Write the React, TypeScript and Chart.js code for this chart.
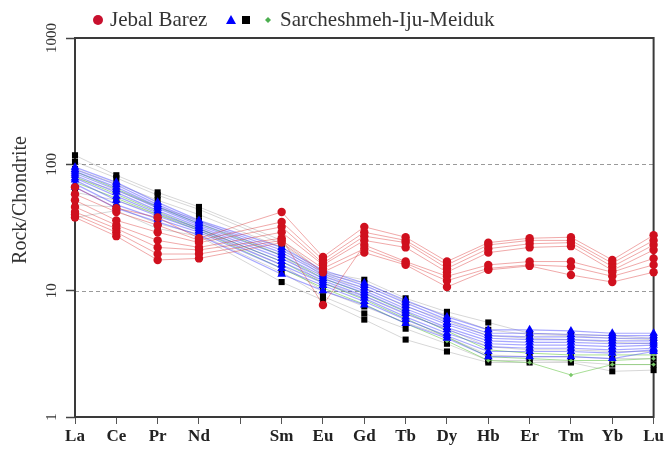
import React, { useEffect, useRef } from "react";
import Chart from "chart.js/auto";

// Rare-earth elements (Pm left blank on the axis)
const elements = ["La", "Ce", "Pr", "Nd", "", "Sm", "Eu", "Gd", "Tb", "Dy", "Hb", "Er", "Tm", "Yb", "Lu"];
const yTickValues = [1, 10, 100, 1000];

// Jebal Barez samples (chondrite-normalised)
const jebalBarez = [
  [66, 45, 38, 26, null, 42, 18.5, 32, 26.5, 17, 24, 26, 26.5, 17.5, 27.5],
  [58, 42, 33, 25, null, 35, 17.5, 29, 25, 16, 23, 25, 25, 16.5, 25],
  [52, 36, 29, 24, null, 32, 16.5, 27, 24, 15, 21.5, 23.5, 24, 15.5, 23],
  [46, 33, 25, 22, null, 29, 16, 25, 22, 14, 20, 22, 22.5, 14.5, 21],
  [42, 31, 22, 21, null, 26, 7.7, 23, 17, 13, 16, 17, 17, 14, 18],
  [40, 29, 19.5, 19.5, null, 25, 15, 21.5, 16.5, 12, 15, 16, 15.5, 13, 16],
  [38, 27, 17.5, 18, null, 24, 14, 20, 16, 10.7, 14.6, 15.7, 13.3, 11.7, 14],
];

// Sarcheshmeh / Iju / Meiduk samples
const blueSamples = [
  [95, 72, 50, 36, null, 22, 14.5, 11.5, 8.4, 6.2, 4.9, 4.9, 4.8, 4.6, 4.6],
  [91, 69, 48, 35, null, 21, 14, 11, 8.0, 5.9, 4.6, 4.6, 4.5, 4.4, 4.4],
  [88, 66, 46.5, 34, null, 20, 13.5, 10.5, 7.6, 5.6, 4.4, 4.3, 4.3, 4.2, 4.2],
  [85, 63, 45, 33, null, 19, 13, 10, 7.2, 5.4, 4.2, 4.1, 4.1, 4.0, 4.0],
  [82, 60, 43, 32, null, 18, 12.5, 9.6, 6.9, 5.1, 4.0, 3.9, 3.9, 3.8, 3.85],
  [78, 56, 41, 31, null, 17, 12, 9.1, 6.6, 4.9, 3.8, 3.7, 3.7, 3.6, 3.7],
  [75, 52, 39, 30, null, 16, 11.5, 8.7, 6.2, 4.6, 3.6, 3.5, 3.5, 3.4, 3.5],
  [70, 48, 37, 29, null, 15, 11, 8.2, 5.9, 4.4, 3.3, 3.3, 3.3, 3.2, 3.4],
  [66, 45, 35, 27.5, null, 13.5, 10, 7.7, 5.5, 4.2, 3.0, 3.0, 3.0, 2.9, 3.3],
];

const blackSamples = [
  [118, 82, 60, 46, null, 25, 14, 12.2, 8.7, 6.8, 5.6, 4.6, 4.5, 4.4, 4.2],
  [105, 78, 57, 44, null, 23.5, 13.5, 11.5, 8.2, 6.4, 4.9, 4.5, 4.4, 4.2, 4.1],
  [92, 70, 52, 40, null, 22, 13, 10.5, 7.5, 5.8, 4.4, 4.2, 4.1, 3.9, 3.8],
  [78, 62, 46, 36, null, 19, 11.5, 9, 6.5, 5, 3.6, 3.4, 3.4, 3.3, 3.3],
  [60, 52, 40, 31, null, 16, 10, 7.5, 5.6, 4.3, 3.1, 3.0, 3.0, 2.9, 2.9],
  [48, 46, 34, 28, null, 14, 9, 6.6, 5.0, 3.8, 2.8, 2.8, 2.75, 2.6, 2.6],
  [38, 43, 31, 27, null, 11.7, 8.4, 5.9, 4.1, 3.3, 2.7, 2.7, 2.7, 2.3, 2.35],
];

const greenSamples = [
  [88, 64, 46, 34, null, 19, 12.5, 9.5, 6.8, 4.8, 3.4, 3.2, 3.1, 3.1, 3.1],
  [80, 58, 42, 31, null, 17, 11.5, 8.5, 6.0, 4.3, 3.0, 2.9, 2.8, 2.8, 2.9],
  [72, 54, 40, 30, null, 15, 10.5, 7.8, 5.5, 4.0, 2.8, 2.7, 2.15, 2.6, 2.6],
];

const SERIF = '"Liberation Serif", "Times New Roman", serif';

function makeSet(data: (number | null)[], style: any) {
  return {
    data,
    spanGaps: true,
    clip: false,
    borderWidth: 1,
    pointBorderWidth: 0,
    ...style,
  };
}

const decorPlugin = {
  id: "decor",
  beforeDatasetsDraw(chart: any) {
    const { ctx, chartArea: a, scales } = chart;
    const y = scales.y;
    ctx.save();
    // dashed reference lines
    ctx.strokeStyle = "#9a9a9a";
    ctx.lineWidth = 1;
    ctx.setLineDash([4, 3]);
    [10, 100].forEach((v) => {
      const py = Math.round(y.getPixelForValue(v)) + 0.5;
      ctx.beginPath();
      ctx.moveTo(a.left, py);
      ctx.lineTo(a.right, py);
      ctx.stroke();
    });
    ctx.setLineDash([]);
    // plot frame
    ctx.strokeStyle = "#3a3a3a";
    ctx.lineWidth = 2;
    ctx.strokeRect(a.left, a.top, a.right - a.left, a.bottom - a.top);
    ctx.restore();
  },
  afterDraw(chart: any) {
    const { ctx, scales } = chart;
    const y = scales.y;
    ctx.save();
    // rotated y tick labels
    ctx.fillStyle = "#333";
    ctx.font = `15px ${SERIF}`;
    ctx.textAlign = "center";
    ctx.textBaseline = "alphabetic";
    yTickValues.forEach((v) => {
      ctx.save();
      ctx.translate(56, y.getPixelForValue(v));
      ctx.rotate(-Math.PI / 2);
      ctx.fillText(String(v), 0, 0);
      ctx.restore();
    });
    // y title
    ctx.save();
    ctx.font = `20px ${SERIF}`;
    ctx.fillStyle = "#333";
    ctx.textBaseline = "middle";
    ctx.translate(21, 200);
    ctx.rotate(-Math.PI / 2);
    ctx.fillText("Rock/Chondrite", 0, 0);
    ctx.restore();

    // legend
    const ly = 20;
    ctx.fillStyle = "#c8102e";
    ctx.beginPath();
    ctx.arc(98, ly, 5, 0, Math.PI * 2);
    ctx.fill();
    ctx.fillStyle = "#333";
    ctx.font = `21px ${SERIF}`;
    ctx.textAlign = "left";
    ctx.textBaseline = "middle";
    ctx.fillText("Jebal Barez", 110, ly);
    ctx.fillStyle = "#0000ff";
    ctx.beginPath();
    ctx.moveTo(231, ly - 5);
    ctx.lineTo(236, ly + 4);
    ctx.lineTo(226, ly + 4);
    ctx.closePath();
    ctx.fill();
    ctx.fillStyle = "#000";
    ctx.fillRect(242, ly - 4, 8, 8);
    ctx.fillStyle = "#4caf50";
    ctx.beginPath();
    ctx.moveTo(268, ly - 3);
    ctx.lineTo(271, ly);
    ctx.lineTo(268, ly + 3);
    ctx.lineTo(265, ly);
    ctx.closePath();
    ctx.fill();
    ctx.fillStyle = "#333";
    ctx.fillText("Sarcheshmeh-Iju-Meiduk", 280, ly);
    ctx.restore();
  },
};

export default function App() {
  const ref = useRef<HTMLCanvasElement | null>(null);

  useEffect(() => {
    if (!ref.current) return;
    const datasets: any[] = [
      ...jebalBarez.map((d) =>
        makeSet(d, {
          borderColor: "rgba(220, 50, 50, 0.42)",
          pointBackgroundColor: "#d0101e",
          pointStyle: "circle",
          pointRadius: 4.2,
        })
      ),
      ...blueSamples.map((d) =>
        makeSet(d, {
          borderColor: "rgba(60, 60, 255, 0.45)",
          borderWidth: 1.2,
          pointBackgroundColor: "#0000ff",
          pointStyle: "triangle",
          pointRadius: 5,
        })
      ),
      ...greenSamples.map((d) =>
        makeSet(d, {
          borderColor: "rgba(110, 200, 80, 0.6)",
          pointBackgroundColor: "#7bc86a",
          pointStyle: "rectRot",
          pointRadius: 2.2,
        })
      ),
      ...blackSamples.map((d) =>
        makeSet(d, {
          borderColor: "rgba(0, 0, 0, 0.16)",
          pointBackgroundColor: "#000",
          pointStyle: "rect",
          pointRadius: 4.3,
        })
      ),
    ];

    const chart = new Chart(ref.current, {
      type: "line",
      data: { labels: elements, datasets },
      options: {
        animation: false,
        responsive: true,
        maintainAspectRatio: false,
        layout: { padding: { top: 38, right: 10, left: 0, bottom: 0 } },
        plugins: { legend: { display: false }, tooltip: { enabled: false } },
        elements: { line: { tension: 0 } },
        scales: {
          x: {
            type: "category",
            offset: false,
            grid: {
              drawOnChartArea: false,
              drawTicks: true,
              tickLength: 7,
              tickColor: "#555",
              tickWidth: 1,
            },
            border: { display: false },
            ticks: {
              autoSkip: false,
              maxRotation: 0,
              color: "#222",
              padding: 2,
              font: { family: SERIF, size: 17, weight: "bold" },
            },
            afterFit: (s: any) => {
              s.height = 36;
            },
          },
          y: {
            type: "logarithmic",
            min: 1,
            max: 1000,
            afterBuildTicks: (s: any) => {
              s.ticks = yTickValues.map((v) => ({ value: v }));
            },
            grid: {
              drawOnChartArea: false,
              drawTicks: true,
              tickLength: 9,
              tickColor: "#444",
              tickWidth: 1.5,
            },
            border: { display: false },
            ticks: { display: false },
            afterFit: (s: any) => {
              s.width = 75;
            },
          },
        },
      },
      plugins: [decorPlugin],
    });
    return () => chart.destroy();
  }, []);

  return (
    <div style={{ position: "fixed", left: 0, top: 0, width: 666, height: 453, background: "#fff" }}>
      <canvas ref={ref} />
    </div>
  );
}
